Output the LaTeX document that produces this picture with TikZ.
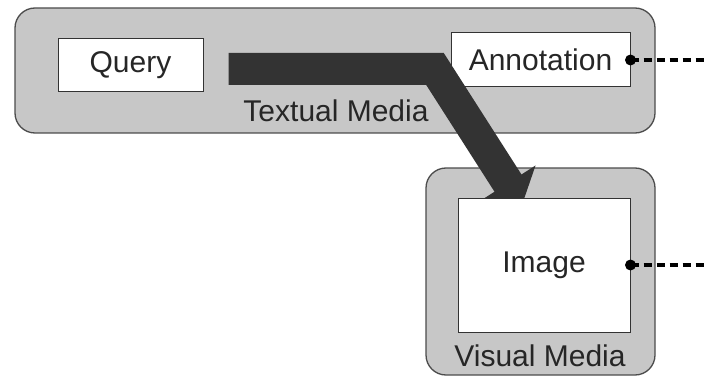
\documentclass[tikz,border=0pt]{standalone}
\usepackage{fontspec}
\setmainfont{Liberation Sans}
\usetikzlibrary{arrows.meta, positioning}

\begin{document}
\begin{tikzpicture}[x=1pt, y=-1pt,
	media/.style={draw=black!70, line width=1.3pt, fill=black!22, rounded corners=20pt, inner sep=0pt},
	item/.style={draw=black!80, line width=1pt, fill=white, inner sep=0pt, font=\fontsize{30}{36}\selectfont, text=black!85},
	caption/.style={inner sep=0pt, font=\fontsize{30}{36}\selectfont, text=black!85},
	flow/.style={draw=black!80, line width=32pt, -{Triangle[length=26pt, width=64pt]}},
	link/.style={draw=black, line width=3.6pt, dash pattern=on 8pt off 5pt}
]

\useasboundingbox (0,0) rectangle (704,377);

% containers
\node [media, minimum width=640pt, minimum height=125pt] (textual) at (335,70.5) {};
\node [media, minimum width=229pt, minimum height=207pt] (visual) at (540.5,271.5) {};

\node [caption] (textlabel) at (336,111) {Textual Media};
\node [caption] (visuallabel) at (540,356) {Visual Media};

% items
\node [item, minimum width=145pt, minimum height=53pt] (query) at (130.5,65.5) {Query};
\node [item, minimum width=179pt, minimum height=54pt] (annotation) at (540.5,60) {Annotation};

\coordinate (bend) at (435,69);
\coordinate (tip) at (522,205);
\path [flow] ([xshift=25pt, yshift=-3.5pt]query.east) -- (bend) -- (tip);

\node [item, minimum width=172pt, minimum height=134pt] (image) at (544,265) {Image};

% links to the right
\coordinate (annout) at (704,60);
\coordinate (imgout) at (704,265);
\path [link] (annotation.east) -- (annout);
\path [link] (image.east) -- (imgout);
\fill (annotation.east) circle (5.5pt);
\fill (image.east) circle (5.5pt);

\end{tikzpicture}
\end{document}
